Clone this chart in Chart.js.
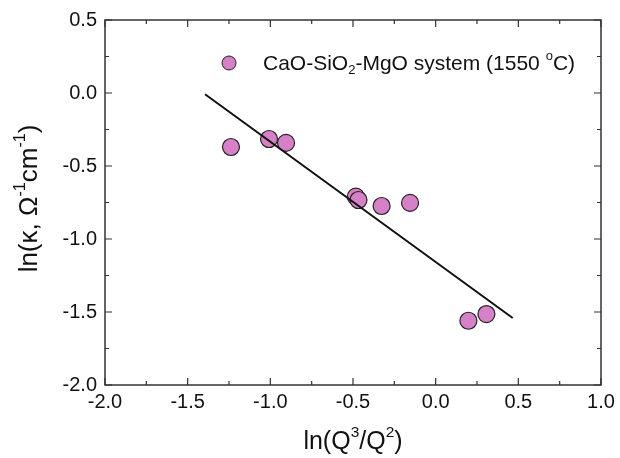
<!DOCTYPE html>
<html>
<head>
<meta charset="utf-8">
<script src="https://cdn.jsdelivr.net/npm/chart.js@4.4.1/dist/chart.umd.min.js"></script>
<style>
html, body { margin: 0; padding: 0; background: #fff; }
#wrap { width: 620px; height: 458px; }
</style>
</head>
<body>
<div id="wrap"><canvas id="chartCanvas" width="620" height="458"></canvas></div>
<script>
// measured points, ln(Q3/Q2) vs ln(kappa)
const xVals = [-1.238, -1.008, -0.905, -0.483, -0.467, -0.327, -0.155, 0.198, 0.307];
const yVals = [-0.370, -0.315, -0.342, -0.710, -0.733, -0.774, -0.753, -1.560, -1.514];

// linear fit line end points
const fitX = [-1.395, 0.466];
const fitY = [-0.009, -1.541];

const xTicks = [-2.0, -1.5, -1.0, -0.5, 0.0, 0.5, 1.0];
const yTicks = [-2.0, -1.5, -1.0, -0.5, 0.0, 0.5];

const pointFill = "#d680c8";
const axisColor = "#333333";
const fontFam = "'Liberation Sans', Arial, Helvetica, sans-serif";

// draw text with sub/superscript pieces
function richText(ctx, parts, x, y, size, align) {
    ctx.save();
    let total = 0;
    parts.forEach(p => {
        const s = p.s ? size * 0.62 : size;
        ctx.font = s + "px " + fontFam;
        p.w = ctx.measureText(p.t).width;
        total += p.w;
    });
    let cx = align === "center" ? x - total / 2 : x;
    ctx.textBaseline = "middle";
    ctx.textAlign = "left";
    parts.forEach(p => {
        const s = p.s ? size * 0.62 : size;
        ctx.font = s + "px " + fontFam;
        let dy = 0;
        if (p.s === 1) dy = -size * 0.38;
        if (p.s === -1) dy = size * 0.3;
        ctx.fillText(p.t, cx, y + dy);
        cx += p.w;
    });
    ctx.restore();
}

const framePlugin = {
    id: "frame",
    afterDraw(chart) {
        const ctx = chart.ctx;
        const a = chart.chartArea;
        const xs = chart.scales.x;
        const ys = chart.scales.y;
        ctx.save();
        ctx.strokeStyle = axisColor;
        ctx.lineWidth = 1.5;
        ctx.strokeRect(a.left, a.top, a.right - a.left, a.bottom - a.top);

        ctx.lineWidth = 1.2;
        ctx.beginPath();
        for (let v = -2.0; v <= 1.0001; v += 0.25) {
            const px = xs.getPixelForValue(v);
            const len = Math.abs(v * 2 - Math.round(v * 2)) < 0.01 ? 7 : 4;
            ctx.moveTo(px, a.bottom); ctx.lineTo(px, a.bottom - len);
            ctx.moveTo(px, a.top); ctx.lineTo(px, a.top + len);
        }
        for (let v = -2.0; v <= 0.5001; v += 0.25) {
            const py = ys.getPixelForValue(v);
            const len = Math.abs(v * 2 - Math.round(v * 2)) < 0.01 ? 7 : 4;
            ctx.moveTo(a.left, py); ctx.lineTo(a.left + len, py);
            ctx.moveTo(a.right, py); ctx.lineTo(a.right - len, py);
        }
        ctx.stroke();

        // legend
        ctx.fillStyle = pointFill;
        ctx.strokeStyle = "#222";
        ctx.lineWidth = 1;
        ctx.beginPath();
        ctx.arc(229, 63, 7, 0, Math.PI * 2);
        ctx.fill();
        ctx.stroke();
        ctx.fillStyle = "#111";
        richText(ctx, [
            {t: "CaO-SiO", s: 0}, {t: "2", s: -1}, {t: "-MgO system (1550 ", s: 0},
            {t: "o", s: 1}, {t: "C)", s: 0}
        ], 263, 64, 21, "left");

        // axis titles
        richText(ctx, [
            {t: "ln(Q", s: 0}, {t: "3", s: 1}, {t: "/Q", s: 0}, {t: "2", s: 1}, {t: ")", s: 0}
        ], (a.left + a.right) / 2, 442, 25, "center");

        ctx.save();
        ctx.translate(30, (a.top + a.bottom) / 2 - 4);
        ctx.rotate(-Math.PI / 2);
        richText(ctx, [
            {t: "ln(\u03ba, \u03a9", s: 0}, {t: "-1", s: 1}, {t: "cm", s: 0}, {t: "-1", s: 1}, {t: ")", s: 0}
        ], 0, 0, 26, "center");
        ctx.restore();
        ctx.restore();
    }
};

const ctx = document.getElementById("chartCanvas").getContext("2d");
const chart = new Chart(ctx, {
    type: "scatter",
    data: {
        datasets: [
            {
                type: "line",
                label: "fit",
                data: fitX.map((x, i) => ({x: x, y: fitY[i]})),
                borderColor: "#111",
                borderWidth: 2,
                pointRadius: 0,
                fill: false,
                order: 0
            },
            {
                label: "CaO-SiO2-MgO system (1550 oC)",
                data: xVals.map((x, i) => ({x: x, y: yVals[i]})),
                backgroundColor: pointFill,
                borderColor: "#222",
                borderWidth: 1.2,
                pointRadius: 8.5,
                order: 1
            }
        ]
    },
    options: {
        responsive: false,
        animation: false,
        layout: { padding: { top: 20, right: 19, left: 0, bottom: 0 } },
        plugins: { legend: { display: false }, tooltip: { enabled: false } },
        scales: {
            x: {
                type: "linear",
                min: -2.0,
                max: 1.0,
                afterFit(scale) { scale.height = 73; },
                afterBuildTicks(scale) { scale.ticks = xTicks.map(v => ({value: v})); },
                grid: { display: false, drawTicks: false },
                border: { display: false },
                ticks: {
                    padding: 5,
                    color: "#111",
                    font: { family: fontFam, size: 20 },
                    callback: v => v.toFixed(1)
                }
            },
            y: {
                type: "linear",
                min: -2.0,
                max: 0.5,
                afterFit(scale) { scale.width = 105; },
                afterBuildTicks(scale) { scale.ticks = yTicks.map(v => ({value: v})); },
                grid: { display: false, drawTicks: false },
                border: { display: false },
                ticks: {
                    padding: 8,
                    color: "#111",
                    font: { family: fontFam, size: 20 },
                    callback: v => v.toFixed(1)
                }
            }
        }
    },
    plugins: [framePlugin]
});
</script>
</body>
</html>
